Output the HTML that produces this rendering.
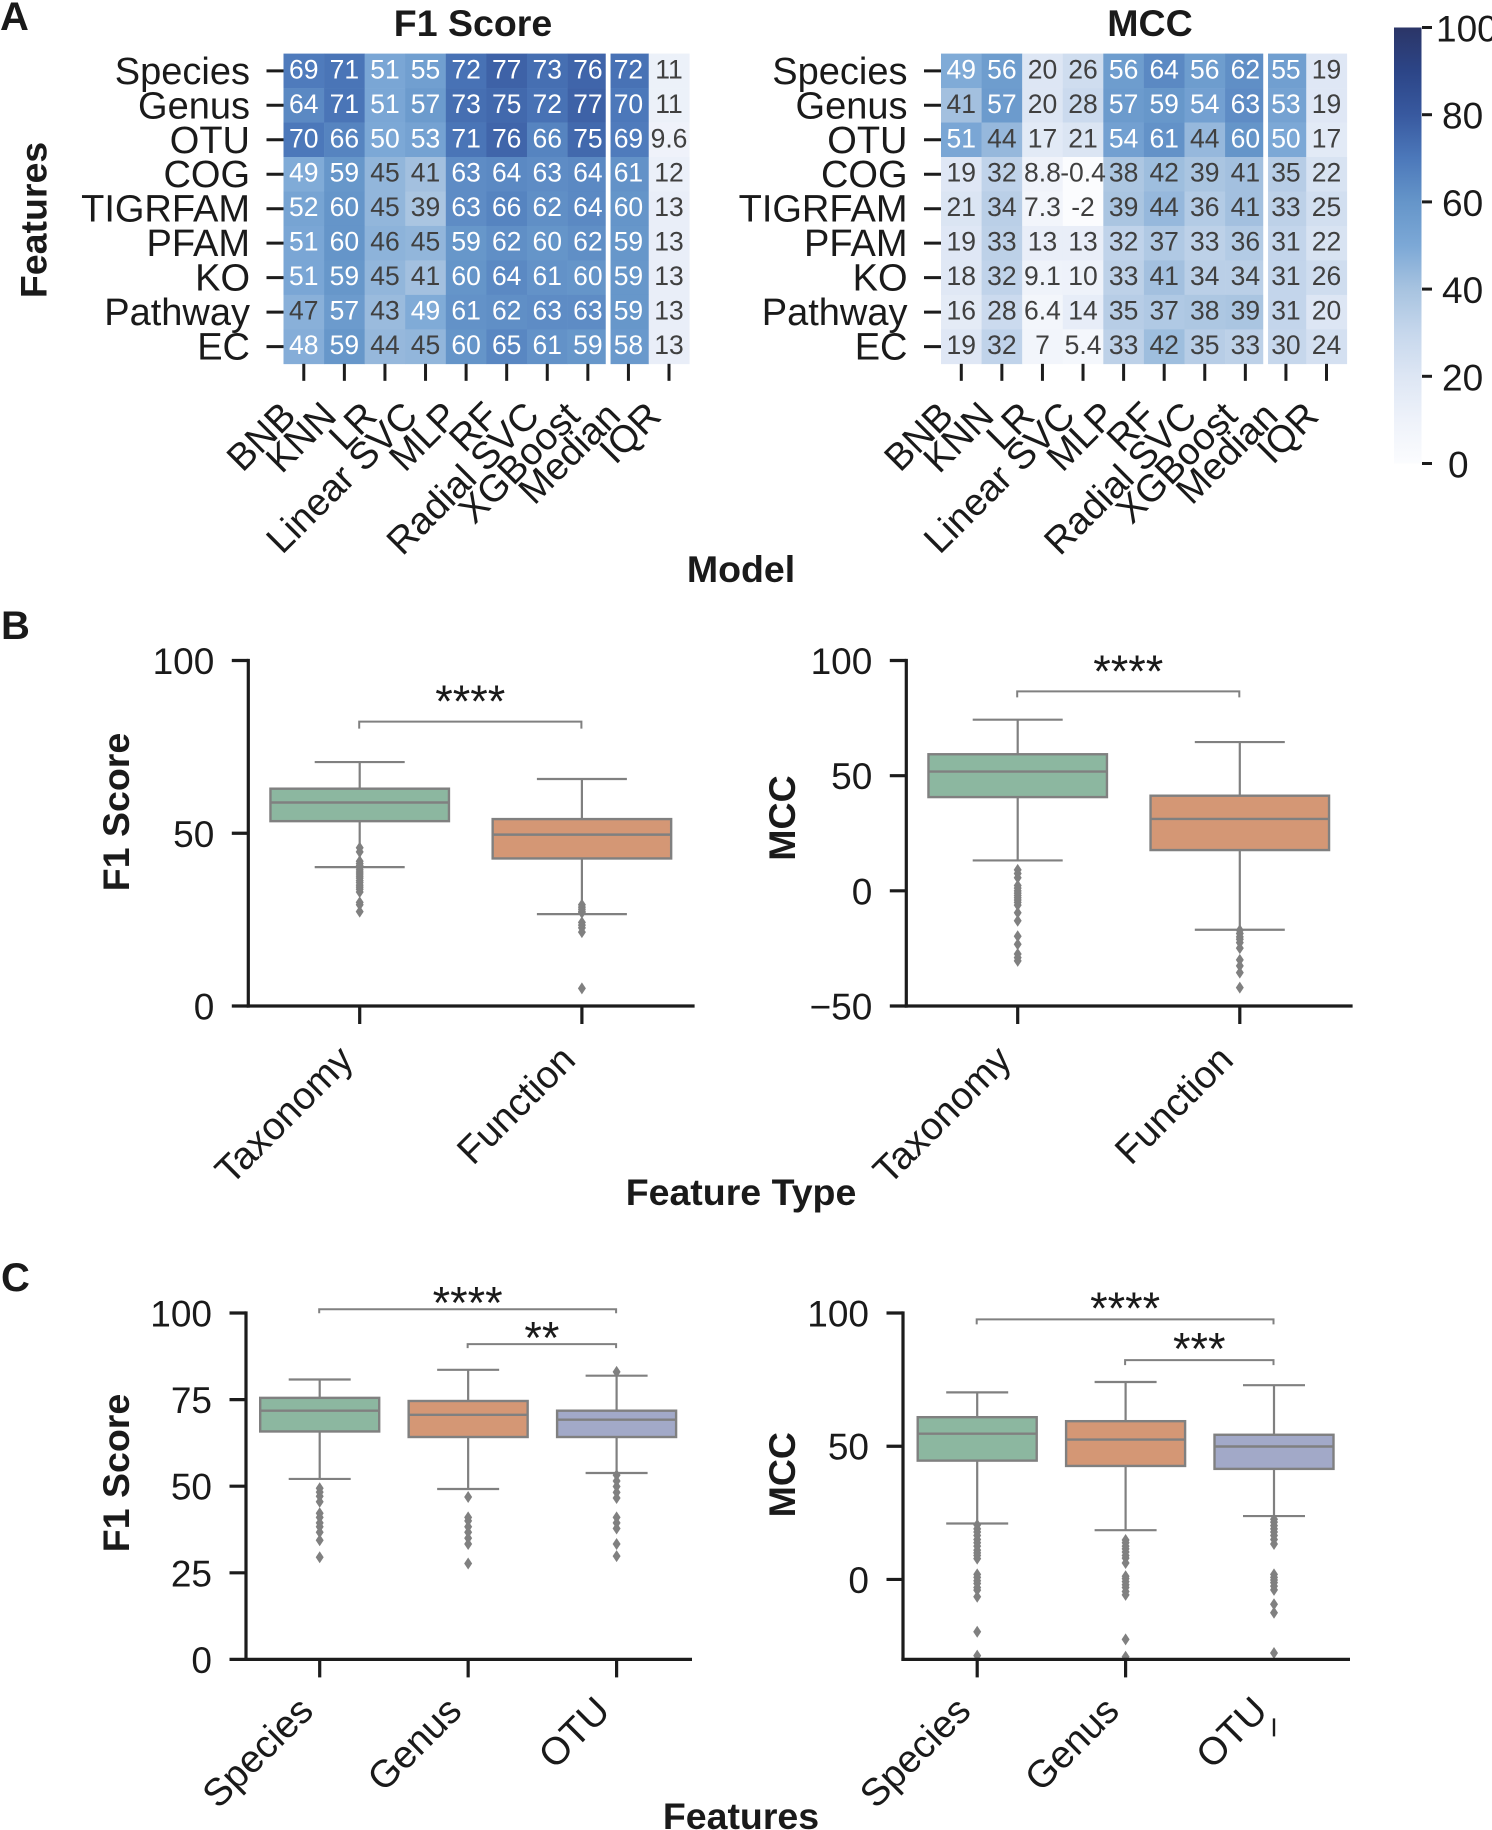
<!DOCTYPE html>
<html lang="en">
<head>
<meta charset="utf-8">
<title>Model performance by feature set</title>
<style>
html,body{margin:0;padding:0;background:#fff;}
svg{display:block;font-family:"Liberation Sans",Arial,sans-serif;fill:#1a1a1a;}
.bold{font-weight:bold;font-size:37.5px;}
.letter{font-weight:bold;font-size:40px;}
</style>
</head>
<body>
<svg id="figure" xmlns="http://www.w3.org/2000/svg" width="1492" height="1830" viewBox="0 0 1492 1830">
  <defs>
    <linearGradient id="cbar-gradient" x1="0" y1="1" x2="0" y2="0"></linearGradient>
  </defs>
  <rect x="0" y="0" width="1492" height="1830" fill="#ffffff"></rect>

  <text class="letter" x="0" y="30">A</text>
  <text class="letter" x="1" y="639">B</text>
  <text class="letter" x="1" y="1291">C</text>

  <text class="bold" x="473" y="36" text-anchor="middle">F1 Score</text>
  <text class="bold" x="1150" y="36" text-anchor="middle">MCC</text>
  <text class="bold" transform="translate(46.5 220) rotate(-90)" text-anchor="middle">Features</text>
  <text class="bold" x="741" y="582" text-anchor="middle">Model</text>

  <text class="bold" transform="translate(128.8 812) rotate(-90)" text-anchor="middle">F1 Score</text>
  <text class="bold" transform="translate(795 818) rotate(-90)" text-anchor="middle">MCC</text>
  <text class="bold" x="741" y="1205" text-anchor="middle">Feature Type</text>

  <text class="bold" transform="translate(128.8 1473) rotate(-90)" text-anchor="middle">F1 Score</text>
  <text class="bold" transform="translate(795 1474.7) rotate(-90)" text-anchor="middle">MCC</text>
  <text class="bold" x="741" y="1829" text-anchor="middle">Features</text>

  <g id="heat-f1"></g>
  <g id="heat-mcc"></g>
  <g id="colorbar"></g>
  <g id="box-b-f1"></g>
  <g id="box-b-mcc"></g>
  <g id="box-c-f1"></g>
  <g id="box-c-mcc"></g>
</svg>

<script>
/* ---------- heatmap data ---------- */
const modelLabels = ['BNB','KNN','LR','Linear SVC','MLP','RF','Radial SVC','XGBoost','Median','IQR'];
const featureLabels = ['Species','Genus','OTU','COG','TIGRFAM','PFAM','KO','Pathway','EC'];
const f1Values = [
  [69,71,51,55,72,77,73,76,72,11],
  [64,71,51,57,73,75,72,77,70,11],
  [70,66,50,53,71,76,66,75,69,9.6],
  [49,59,45,41,63,64,63,64,61,12],
  [52,60,45,39,63,66,62,64,60,13],
  [51,60,46,45,59,62,60,62,59,13],
  [51,59,45,41,60,64,61,60,59,13],
  [47,57,43,49,61,62,63,63,59,13],
  [48,59,44,45,60,65,61,59,58,13]
];
const mccValues = [
  [49,56,20,26,56,64,56,62,55,19],
  [41,57,20,28,57,59,54,63,53,19],
  [51,44,17,21,54,61,44,60,50,17],
  [19,32,8.8,-0.4,38,42,39,41,35,22],
  [21,34,7.3,-2,39,44,36,41,33,25],
  [19,33,13,13,32,37,33,36,31,22],
  [18,32,9.1,10,33,41,34,34,31,26],
  [16,28,6.4,14,35,37,38,39,31,20],
  [19,32,7,5.4,33,42,35,33,30,24]
];
const colorbarTicks = [0,20,40,60,80,100];
const colormapValues = [0,10,20,30,40,50,60,70,80,90,100];
const colormapColors = ['#fbfcfe','#eef2fa','#dde6f4','#c6d7ec','#a7c3e0','#7ca8d6','#6595c9','#4c78ba','#38599f','#2c4587','#2b3567'];

/* ---------- panel B data ---------- */
const bCategories = ['Taxonomy','Function'];
const bF1Whislo = [40.2,26.6];
const bF1Q1 = [53.5,42.7];
const bF1Median = [58.9,49.6];
const bF1Q3 = [62.9,54.1];
const bF1Whishi = [70.6,65.7];
const bF1Outliers = [
  [45.8,44.6,41.9,41.2,40.6,40,39.4,38.8,38.2,37.6,37,36.3,35.7,35,34.4,33.8,33,30,29.3,27.3],
  [29.3,28.6,28,27.4,27,24.2,23.4,22.6,21.4,5.1]
];
const bF1Ticks = [0,50,100];
const bF1Brackets = [[0,1,82.3,'****']];

const bMccWhislo = [13.2,-16.9];
const bMccQ1 = [40.7,17.7];
const bMccMedian = [51.8,31.2];
const bMccQ3 = [59.3,41.3];
const bMccWhishi = [74.3,64.6];
const bMccOutliers = [
  [9.1,7.5,5.7,2.3,1.2,0,-1,-2,-3,-4,-5,-6.2,-9.5,-13,-19.7,-23.2,-27.4,-29,-30.4],
  [-17.1,-18.5,-20,-21,-22.5,-24.9,-30,-32.6,-35.5,-42]
];
const bMccTicks = [-50,0,50,100];
const bMccBrackets = [[0,1,86.6,'****']];

/* ---------- panel C data ---------- */
const cCategories = ['Species','Genus','OTU'];
const cF1Whislo = [52.1,49.2,53.8];
const cF1Q1 = [65.8,64.2,64.2];
const cF1Median = [71.8,70.6,69.2];
const cF1Q3 = [75.5,74.6,71.8];
const cF1Whishi = [80.8,83.6,81.9];
const cF1Outliers = [
  [49.4,48.3,47.1,45.5,42.2,41,39.4,38.3,36.7,34.4,29.5],
  [46.9,41,40,38.3,36.7,35,33.3,27.7],
  [83,53.2,51.5,49.9,48.2,46.6,41,39.4,37.8,33.3,29.8]
];
const cF1Ticks = [0,25,50,75,100];
const cF1Brackets = [[0,2,101.1,'****'],[1,2,91,'**']];

const cMccWhislo = [21,18.5,23.8];
const cMccQ1 = [44.6,42.6,41.5];
const cMccMedian = [54.7,52.5,49.9];
const cMccQ3 = [60.9,59.4,54.3];
const cMccWhishi = [70.2,74.1,72.9];
const cMccOutliers = [
  [20.5,19,17.8,16.5,15,13.8,12.5,11,10,9,7.8,1.9,0.8,-0.5,-1.5,-3,-4,-6.5,-19.6,-28.6],
  [14.8,13.8,12.5,11.5,10.3,9,8,6.2,1.2,0.3,-0.8,-2,-3,-4.5,-5.8,-22.5,-29],
  [22.6,21.5,20.2,19,17.8,16.5,15,13.3,1.9,0.8,-0.2,-1.2,-2.5,-3.9,-9.3,-12.5,-27.6]
];
const cMccTicks = [0,50,100];
const cMccBrackets = [[0,2,97.6,'****'],[1,2,82.3,'***']];

/* ---------- helpers ---------- */
const SVGNS = 'http://www.w3.org/2000/svg';
const AXIS = '#1c1c1c';
const GRAY = '#808080';
const boxColors = ['#8cb7a0','#d49775','#a2a9c8'];

function draw(tag, attrs, parent, text) {
  const node = document.createElementNS(SVGNS, tag);
  for (const k in attrs) node.setAttribute(k, attrs[k]);
  if (text !== undefined) node.textContent = text;
  parent.appendChild(node);
  return node;
}
function linear(d0, d1, r0, r1) {
  return v => r0 + (v - d0) * (r1 - r0) / (d1 - d0);
}
function hexToRgb(h) {
  return [1,3,5].map(i => parseInt(h.substr(i,2),16));
}
function colorFor(v) {
  const c = Math.max(colormapValues[0], Math.min(colormapValues[colormapValues.length-1], v));
  let i = 0;
  while (i < colormapValues.length - 2 && c > colormapValues[i+1]) i++;
  const t = (c - colormapValues[i]) / (colormapValues[i+1] - colormapValues[i]);
  const a = hexToRgb(colormapColors[i]), b = hexToRgb(colormapColors[i+1]);
  return 'rgb(' + a.map((x,k) => Math.round(x + (b[k]-x)*t)).join(',') + ')';
}

/* ---------- heatmaps ---------- */
function drawHeatmap(groupId, matrix, x0) {
  const g = document.getElementById(groupId);
  const top = 53.6, cellW = 40.58, cellH = 34.47;
  const colX = linear(0, modelLabels.length, x0, x0 + modelLabels.length * cellW);
  const rowY = linear(0, featureLabels.length, top, top + featureLabels.length * cellH);
  const bottom = rowY(featureLabels.length);

  matrix.forEach((row, i) => {
    row.forEach((v, j) => {
      const cell = draw('rect', {x: colX(j), y: rowY(i), width: cellW + 0.3, height: cellH + 0.3, fill: colorFor(v)}, g);
      
      
    });
  });
  matrix.forEach((row, i) => {
    row.forEach((v, j) => {
      const label = draw('text', {
        x: colX(j + 0.5), y: rowY(i + 0.5) + 7.5, 'text-anchor': 'middle',
        'font-size': 26.5, fill: v >= 47.5 ? '#ffffff' : '#404040'
      }, g, String(v));
      
      
    });
  });

  const divider = draw('rect', {x: colX(8) - 2.4, y: top - 1, width: 4.8, height: bottom - top + 2, fill: '#ffffff'}, g);
  
  

  featureLabels.forEach((name, i) => {
    const tick = draw('line', {x1: x0 - 17, x2: x0, y1: rowY(i + 0.5), y2: rowY(i + 0.5), stroke: AXIS, 'stroke-width': 3}, g);
    
    
    const label = draw('text', {x: x0 - 33.5, y: rowY(i + 0.5) + 13, 'text-anchor': 'end', 'font-size': 38}, g, name);
    
    
  });
  modelLabels.forEach((name, j) => {
    const cx = colX(j + 0.5);
    const tick = draw('line', {x1: cx, x2: cx, y1: bottom, y2: bottom + 17, stroke: AXIS, 'stroke-width': 3}, g);
    
    
    const label = draw('text', {
      transform: 'translate(' + (cx - 6) + ' 418) rotate(-45)',
      'text-anchor': 'end', 'font-size': 38
    }, g, name);
    
    
  });
}

/* ---------- colorbar ---------- */
function drawColorbar() {
  const g = document.getElementById('colorbar');
  const grad = document.getElementById('cbar-gradient');
  colormapValues.forEach((v, i) => {
    draw('stop', {offset: (v / 100), 'stop-color': colormapColors[i]}, grad);
  });
  const y = linear(0, 100, 463.5, 27.5);
  const bar = draw('rect', {x: 1394, y: y(100), width: 27.5, height: y(0) - y(100), fill: 'url(#cbar-gradient)'}, g);
  
  
  colorbarTicks.forEach(v => {
    const tick = draw('line', {x1: 1422, x2: 1432, y1: y(v), y2: y(v), stroke: AXIS, 'stroke-width': 3}, g);
    
    
    const s = String(v);
    const label = draw('text', {x: 1448 - (s.length - 1) * 6, y: y(v) + 14, 'font-size': 37}, g, s);
    
    
  });
}

/* ---------- box plots ---------- */
function drawBoxChart(groupId, layout, categories, whislo, q1, median, q3, whishi, outliers, ticks, brackets) {
  const g = document.getElementById(groupId);
  const y = linear(layout.yMin, layout.yMax, layout.bottom, layout.top);
  const x = linear(0, 1, layout.xFirst, layout.xFirst + layout.step);

  brackets.forEach(b => {
    const x1 = x(b[0]) - 0.5, x2 = x(b[1]) - 0.5, yy = y(b[2]);
    const br = draw('path', {
      d: 'M' + x1 + ' ' + (yy + layout.tip) + ' L' + x1 + ' ' + yy + ' L' + x2 + ' ' + yy + ' L' + x2 + ' ' + (yy + layout.tip),
      fill: 'none', stroke: GRAY, 'stroke-width': 2
    }, g);
    
    
    const star = draw('text', {x: (x1 + x2) / 2, y: yy + layout.starDrop, 'text-anchor': 'middle', 'font-size': 45}, g, b[3]);
    
    
  });

  categories.forEach((name, i) => {
    const cx = x(i);
    const w = layout.boxW, cw = layout.capW;
    const whisker = draw('line', {x1: cx, x2: cx, y1: y(whishi[i]), y2: y(whislo[i]), stroke: GRAY, 'stroke-width': 2.2}, g);
    
    

    [whishi[i], whislo[i]].forEach(v => {
      const cap = draw('line', {x1: cx - cw / 2, x2: cx + cw / 2, y1: y(v), y2: y(v), stroke: GRAY, 'stroke-width': 2.2}, g);
      
      
    });

    const box = draw('rect', {x: cx - w / 2, y: y(q3[i]), width: w, height: y(q1[i]) - y(q3[i]), fill: boxColors[i], stroke: GRAY, 'stroke-width': 2.4}, g);
    
    

    const med = draw('line', {x1: cx - w / 2, x2: cx + w / 2, y1: y(median[i]), y2: y(median[i]), stroke: GRAY, 'stroke-width': 2.4}, g);
    
    

    outliers[i].forEach(v => {
      const py = y(v);
      const flier = draw('path', {d: 'M' + cx + ' ' + (py - 6) + ' L' + (cx + 4) + ' ' + py + ' L' + cx + ' ' + (py + 6) + ' L' + (cx - 4) + ' ' + py + ' Z', fill: GRAY}, g);
      
      
    });

    const shift = layout.tickShift && layout.tickShift[i] ? layout.tickShift[i] : 0;
    const tick = draw('line', {x1: cx, x2: cx, y1: layout.bottom + shift, y2: layout.bottom + 18 + shift, stroke: AXIS, 'stroke-width': shift ? 2.4 : 3.2}, g);
    
    

    const label = draw('text', {
      transform: 'translate(' + (cx - 4.5) + ' ' + layout.labelY + ') rotate(-45)',
      'text-anchor': 'end', 'font-size': 38.5
    }, g, name);
    
    
  });

  const yAxis = draw('line', {x1: layout.axisX, x2: layout.axisX, y1: y(layout.yMax) - 1.6, y2: layout.bottom + 1.6, stroke: AXIS, 'stroke-width': 3.2}, g);
  
  
  const xAxis = draw('line', {x1: layout.axisX - 1.6, x2: layout.axisEnd, y1: layout.bottom, y2: layout.bottom, stroke: AXIS, 'stroke-width': 3.2}, g);
  
  

  ticks.forEach(v => {
    const tick = draw('line', {x1: layout.axisX - 16.5, x2: layout.axisX, y1: y(v), y2: y(v), stroke: AXIS, 'stroke-width': 3.2}, g);
    
    
    const label = draw('text', {x: layout.axisX - 34, y: y(v) + 13.5, 'text-anchor': 'end', 'font-size': 37}, g, String(v).replace('-', '\u2212'));
    
    
  });
}

/* ---------- render ---------- */
drawHeatmap('heat-f1', f1Values, 283.5);
drawHeatmap('heat-mcc', mccValues, 941);
drawColorbar();

drawBoxChart('box-b-f1',
  {axisX: 248.3, axisEnd: 694.6, top: 660.5, bottom: 1006, yMin: 0, yMax: 100, xFirst: 359.7, step: 222.2, boxW: 178.5, capW: 90, tip: 7, starDrop: -4.5, labelY: 1062},
  bCategories, bF1Whislo, bF1Q1, bF1Median, bF1Q3, bF1Whishi, bF1Outliers, bF1Ticks, bF1Brackets);
drawBoxChart('box-b-mcc',
  {axisX: 906.3, axisEnd: 1352.6, top: 660.5, bottom: 1006, yMin: -50, yMax: 100, xFirst: 1017.7, step: 222.1, boxW: 178.5, capW: 90, tip: 6, starDrop: -4.5, labelY: 1062},
  bCategories, bMccWhislo, bMccQ1, bMccMedian, bMccQ3, bMccWhishi, bMccOutliers, bMccTicks, bMccBrackets);
drawBoxChart('box-c-f1',
  {axisX: 246, axisEnd: 692, top: 1313, bottom: 1659.4, yMin: 0, yMax: 100, xFirst: 319.7, step: 148.45, boxW: 119, capW: 62, tip: 4, starDrop: 9.5, labelY: 1713},
  cCategories, cF1Whislo, cF1Q1, cF1Median, cF1Q3, cF1Whishi, cF1Outliers, cF1Ticks, cF1Brackets);
drawBoxChart('box-c-mcc',
  {axisX: 903, axisEnd: 1350, top: 1313, bottom: 1659.4, yMin: -30, yMax: 100, xFirst: 977.2, step: 148.4, boxW: 119, capW: 62, tip: 5, starDrop: 4.5, labelY: 1713, tickShift: {2: 59}},
  cCategories, cMccWhislo, cMccQ1, cMccMedian, cMccQ3, cMccWhishi, cMccOutliers, cMccTicks, cMccBrackets);
</script>
</body>
</html>
